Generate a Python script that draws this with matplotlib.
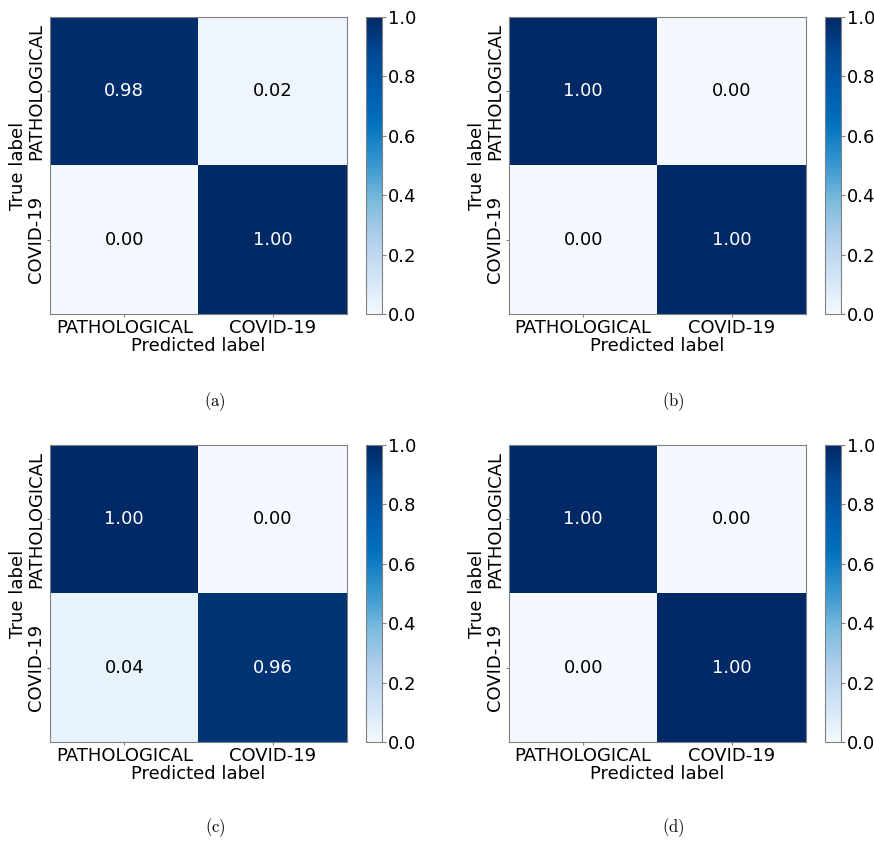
import numpy as np
import matplotlib
matplotlib.use('Agg')
import matplotlib.pyplot as plt
from matplotlib.colors import ListedColormap, rgb_to_hsv, hsv_to_rgb

plt.rcParams['mathtext.fontset'] = 'cm'

classes = ['PATHOLOGICAL', 'COVID-19']
cm_a = [[0.98, 0.02], [0.00, 1.00]]
cm_b = [[1.00, 0.00], [0.00, 1.00]]
cm_c = [[1.00, 0.00], [0.04, 0.96]]
cm_d = [[1.00, 0.00], [0.00, 1.00]]
captions = ['(a)', '(b)', '(c)', '(d)']

# Blues with boosted saturation, closer to the reference rendering
base = plt.get_cmap('Blues')(np.linspace(0, 1, 256))[:, :3]
hsv = rgb_to_hsv(base)
hsv[:, 1] = np.clip(hsv[:, 1] * 1.45, 0, 1)
hsv[:, 2] = hsv[:, 2] * (1 - 0.05 * np.linspace(0, 1, 256))
cmap = ListedColormap(hsv_to_rgb(hsv))

W, H = 874, 841
fig = plt.figure(figsize=(W / 100, H / 100), dpi=100)

origins = [(50, 17), (509, 17), (50, 445), (509, 445)]
caption_pos = [(215, 402), (673, 402), (215, 828), (673, 828)]
edge = '#808080'
fs = 13

for mat, (x0, y0), cap, (cx, cy) in zip([cm_a, cm_b, cm_c, cm_d], origins, captions, caption_pos):
    mat = np.array(mat)
    size = 297
    ax = fig.add_axes([x0 / W, 1 - (y0 + size) / H, size / W, size / H])
    im = ax.imshow(mat, cmap=cmap, vmin=0, vmax=1, interpolation='nearest', aspect='auto')
    ax.set_xticks(range(len(classes)))
    ax.set_yticks(range(len(classes)))
    ax.set_xticklabels(classes, fontsize=fs)
    ax.set_yticklabels(classes, fontsize=fs, rotation=90, va='center')
    ax.set_xlabel('Predicted label', fontsize=fs, labelpad=0)
    ax.set_ylabel('True label', fontsize=fs, labelpad=0)
    ax.tick_params(length=2, color=edge, pad=1.5)
    for s in ax.spines.values():
        s.set_color(edge)
    for i in range(mat.shape[0]):
        for j in range(mat.shape[1]):
            ax.text(j, i, f'{mat[i, j]:.2f}', ha='center', va='center', fontsize=fs,
                    color='white' if mat[i, j] > 0.5 else 'black')

    cax = fig.add_axes([(x0 + 316) / W, 1 - (y0 + size) / H, 16 / W, size / H])
    cb = fig.colorbar(im, cax=cax, ticks=[0, 0.2, 0.4, 0.6, 0.8, 1.0])
    cb.outline.set_edgecolor(edge)
    cax.tick_params(labelsize=fs, length=3, color=edge, pad=1)

    fig.text(cx / W, 1 - cy / H, r'$\mathrm{' + cap + '}$', ha='center', va='center', fontsize=12)

fig.savefig('out.png', dpi=100)
